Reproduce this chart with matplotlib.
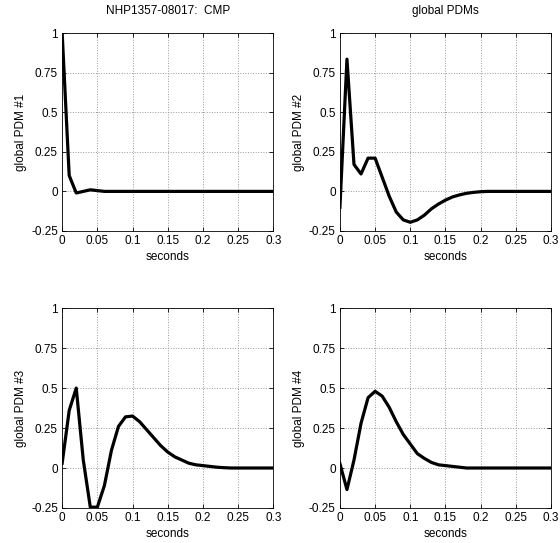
import numpy as np
import matplotlib
matplotlib.use('Agg')
import matplotlib.pyplot as plt

plt.rcParams['font.family'] = ['Liberation Sans', 'DejaVu Sans']
plt.rcParams['font.size'] = 8.5

# time axis, one sample every 10 ms
t = [i * 0.01 for i in range(31)]

pdm1 = [1.0, 0.1, -0.01, 0.0, 0.01, 0.005, 0.0, 0.0, 0.0, 0.0, 0.0,
        0.0, 0.0, 0.0, 0.0, 0.0, 0.0, 0.0, 0.0, 0.0, 0.0,
        0.0, 0.0, 0.0, 0.0, 0.0, 0.0, 0.0, 0.0, 0.0, 0.0]
pdm2 = [-0.1, 0.835, 0.17, 0.11, 0.21, 0.21, 0.09, -0.03, -0.13, -0.18, -0.195,
        -0.18, -0.15, -0.11, -0.08, -0.055, -0.035, -0.022, -0.012, -0.006, -0.002,
        0.0, 0.0, 0.0, 0.0, 0.0, 0.0, 0.0, 0.0, 0.0, 0.0]
pdm3 = [0.03, 0.36, 0.5, 0.05, -0.245, -0.245, -0.11, 0.11, 0.26, 0.32, 0.325,
        0.29, 0.24, 0.19, 0.14, 0.1, 0.07, 0.05, 0.03, 0.02, 0.015,
        0.01, 0.005, 0.002, 0.0, 0.0, 0.0, 0.0, 0.0, 0.0, 0.0]
pdm4 = [0.027, -0.135, 0.05, 0.28, 0.44, 0.48, 0.45, 0.38, 0.29, 0.21, 0.15,
        0.09, 0.06, 0.035, 0.02, 0.015, 0.01, 0.005, 0.0, 0.0, 0.0,
        0.0, 0.0, 0.0, 0.0, 0.0, 0.0, 0.0, 0.0, 0.0, 0.0]

series = [pdm1, pdm2, pdm3, pdm4]
titles = ['NHP1357-08017:  CMP', 'global PDMs', '', '']
xticks = [0, 0.05, 0.1, 0.15, 0.2, 0.25, 0.3]
yticks = [-0.25, 0, 0.25, 0.5, 0.75, 1]

fig = plt.figure(figsize=(5.6, 5.43), dpi=100)
positions = [[0.111, 0.5746, 0.377, 0.3646],
             [0.607, 0.5746, 0.377, 0.3646],
             [0.111, 0.0645, 0.377, 0.368],
             [0.607, 0.0645, 0.377, 0.368]]

for k in range(4):
    ax = fig.add_axes(positions[k])
    ax.plot(t, series[k], color='black', linewidth=2.3)
    ax.set_xlim(0, 0.3)
    ax.set_ylim(-0.25, 1)
    ax.set_xticks(xticks)
    ax.set_yticks(yticks)
    ax.set_xticklabels(['%g' % v for v in xticks])
    ax.set_yticklabels(['%g' % v for v in yticks])
    ax.tick_params(direction='in', length=3, width=0.6, top=True, right=True, pad=3)
    ax.grid(True, linestyle=':', color='#999999', linewidth=0.7)
    for s in ax.spines.values():
        s.set_linewidth(0.6)
    ax.set_xlabel('seconds', labelpad=3)
    ax.set_ylabel('global PDM #%d' % (k + 1), labelpad=3)
    if titles[k]:
        ax.set_title(titles[k], fontsize=8.5, pad=14)

fig.savefig('out.png', dpi=100)
